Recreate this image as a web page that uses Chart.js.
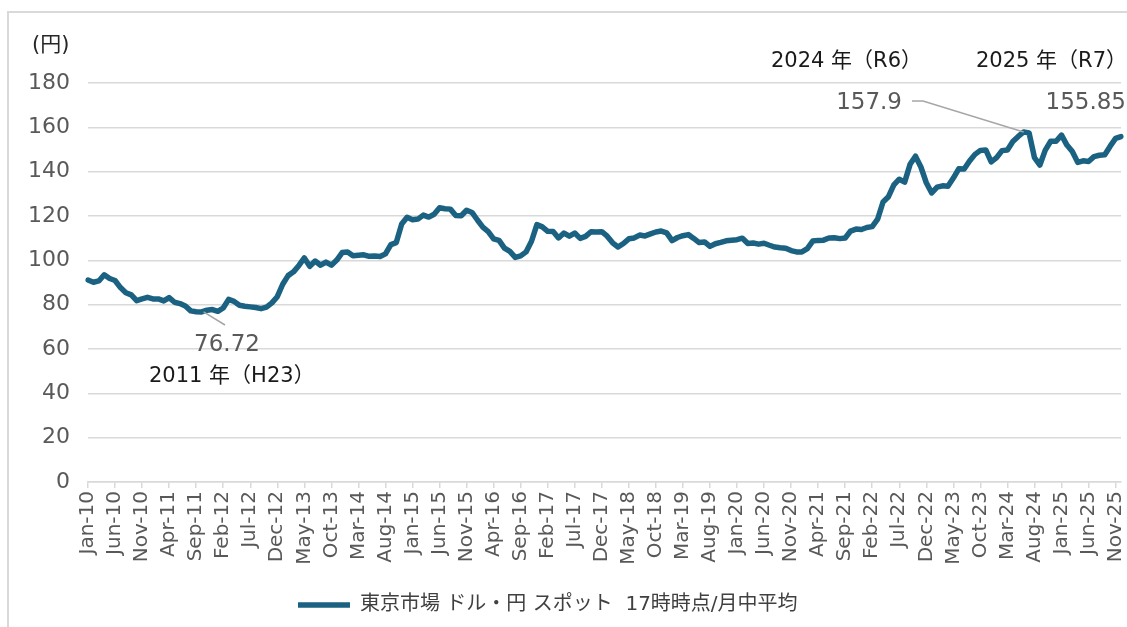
<!DOCTYPE html>
<html>
<head>
<meta charset="utf-8">
<script src="https://cdn.jsdelivr.net/npm/chart.js@4.4.1/dist/chart.umd.min.js"></script>
<style>
  html, body { margin: 0; padding: 0; background: #ffffff; }
  #wrap { position: relative; width: 1127px; height: 627px; overflow: hidden; }
  #frame { position: absolute; left: 7px; top: 11px; width: 1140px; height: 640px; border: 2px solid #d9d9d9; box-sizing: border-box; }
  canvas { position: absolute; left: 0; top: 0; }
</style>
</head>
<body>
<div id="wrap">
  <div id="frame"></div>
  <canvas id="c" width="1127" height="627"></canvas>
</div>
<script>
// ---- Data (Tokyo market USD/JPY spot, 17:00, monthly average) ----
const MONTHS = ['Jan','Feb','Mar','Apr','May','Jun','Jul','Aug','Sep','Oct','Nov','Dec'];
const YEARS = ['10','11','12','13','14','15','16','17','18','19','20','21','22','23','24','25'];

const y2010 = [91.1, 90.1, 90.7, 93.5, 91.8, 90.9, 87.7, 85.4, 84.4, 81.8, 82.6, 83.3];
const y2011 = [82.6, 82.6, 81.7, 83.2, 81.1, 80.5, 79.4, 77.2, 76.8, 76.72, 77.5, 77.8];
const y2012 = [76.98, 78.5, 82.4, 81.5, 79.7, 79.3, 79.0, 78.7, 78.2, 78.9, 80.8, 83.6];
const y2013 = [89.2, 93.1, 94.8, 97.7, 101.1, 97.3, 99.7, 97.8, 99.2, 97.8, 100.1, 103.5];
const y2014 = [103.8, 102.1, 102.3, 102.5, 101.8, 102.0, 101.7, 102.9, 107.1, 108.0, 116.4, 119.4];
const y2015 = [118.3, 118.6, 120.4, 119.5, 120.8, 123.7, 123.3, 123.1, 120.2, 120.1, 122.6, 121.6];
const y2016 = [118.2, 115.0, 113.0, 109.7, 109.0, 105.5, 104.0, 101.3, 102.0, 103.8, 108.6, 116.1];
const y2017 = [115.1, 113.1, 113.0, 110.1, 112.3, 110.9, 112.3, 109.9, 110.8, 112.9, 112.8, 112.9];
const y2018 = [110.9, 107.9, 106.0, 107.6, 109.7, 110.1, 111.4, 111.0, 111.9, 112.8, 113.2, 112.4];
const y2019 = [108.9, 110.3, 111.1, 111.6, 109.9, 108.0, 108.3, 106.3, 107.5, 108.1, 108.8, 109.1];
const y2020 = [109.3, 110.0, 107.6, 107.8, 107.3, 107.7, 106.8, 106.0, 105.7, 105.5, 104.4, 103.8];
const y2021 = [103.8, 105.3, 108.7, 109.0, 109.1, 110.1, 110.2, 109.8, 110.1, 113.2, 114.1, 113.9];
const y2022 = [114.8, 115.2, 118.6, 126.3, 128.7, 134.0, 136.6, 135.3, 143.3, 147.0, 142.1, 135.0];
const y2023 = [130.4, 133.0, 133.6, 133.4, 137.1, 141.3, 141.2, 144.8, 147.8, 149.6, 149.8, 144.4];
const y2024 = [146.3, 149.5, 149.8, 153.6, 155.9, 157.9, 157.5, 146.3, 143.0, 149.7, 153.7, 153.7];
const y2025 = [156.5, 152.0, 149.1, 144.2, 144.9, 144.6, 146.8, 147.4, 147.6, 151.5, 155.0, 155.85];

const Y_TICKS = [0, 20, 40, 60, 80, 100, 120, 140, 160, 180];
const SERIES_NAME = '東京市場 ドル・円 スポット  17時時点/月中平均    ';

const categories = [];
YEARS.forEach(yy => MONTHS.forEach(m => categories.push(m + '-' + yy)));
const values = [].concat(y2010, y2011, y2012, y2013, y2014, y2015, y2016, y2017,
                         y2018, y2019, y2020, y2021, y2022, y2023, y2024, y2025);

// annotation callouts: anchored on data points
const CALLOUTS = [
  { year: '2011 年（H23）', value: '76.72', idx: 21 },
  { year: '2024 年（R6）', value: '157.9', idx: 173 },
  { year: '2025 年（R7）', value: '155.85', idx: 191 }
];

const FONT = '"DejaVu Sans", "Noto Sans CJK JP", sans-serif';
const LINE_COLOR = '#1a6182';
const GRID = '#d9d9d9';

const annotate = {
  id: 'annotate',
  afterDraw(chart) {
    const ctx = chart.ctx;
    const xs = chart.scales.x, ys = chart.scales.y;
    ctx.save();
    // y axis unit
    ctx.fillStyle = '#262626';
    ctx.font = '21px ' + FONT;
    ctx.textBaseline = 'middle';
    ctx.textAlign = 'left';
    ctx.fillText('(円)', 32, 46);

    // connectors
    ctx.strokeStyle = '#a6a6a6';
    ctx.lineWidth = 1.5;
    const p0 = { x: xs.getPixelForValue(CALLOUTS[0].idx), y: ys.getPixelForValue(values[CALLOUTS[0].idx]) };
    ctx.beginPath(); ctx.moveTo(p0.x + 2, p0.y); ctx.lineTo(225, 325); ctx.stroke();
    const p1 = { x: xs.getPixelForValue(CALLOUTS[1].idx), y: ys.getPixelForValue(values[CALLOUTS[1].idx]) };
    ctx.beginPath(); ctx.moveTo(912, 101); ctx.lineTo(923, 101); ctx.lineTo(p1.x, p1.y); ctx.stroke();

    // value labels
    ctx.fillStyle = '#595959';
    ctx.font = '23px ' + FONT;
    ctx.textAlign = 'center';
    ctx.fillText(CALLOUTS[0].value, 227, 345);
    ctx.textAlign = 'right';
    ctx.fillText(CALLOUTS[1].value, 902, 103);
    ctx.fillText(CALLOUTS[2].value, 1126, 103);

    // year labels
    ctx.fillStyle = '#1a1a1a';
    ctx.font = '21px ' + FONT;
    ctx.textAlign = 'left';
    ctx.fillText(CALLOUTS[0].year, 149, 377);
    ctx.fillText(CALLOUTS[1].year, 771, 62);
    ctx.fillText(CALLOUTS[2].year, 976, 62);
    ctx.restore();
  }
};

new Chart(document.getElementById('c'), {
  type: 'line',
  data: {
    labels: categories,
    datasets: [{
      label: SERIES_NAME,
      data: values,
      borderColor: LINE_COLOR,
      backgroundColor: LINE_COLOR,
      borderWidth: 5.5,
      pointRadius: 0,
      pointHoverRadius: 0,
      tension: 0,
      borderJoinStyle: 'round',
      borderCapStyle: 'round',
      fill: false
    }]
  },
  options: {
    responsive: false,
    animation: false,
    devicePixelRatio: 1,
    layout: { padding: { top: 83, right: 6, left: 0, bottom: 2 } },
    plugins: {
      tooltip: { enabled: false },
      legend: {
        display: true,
        position: 'bottom',
        labels: {
          usePointStyle: true,
          pointStyle: 'line',
          pointStyleWidth: 52,
          color: '#404040',
          font: { family: FONT, size: 20 },
          padding: 8
        }
      }
    },
    scales: {
      x: {
        type: 'category',
        offset: false,
        grid: {
          drawOnChartArea: false,
          drawTicks: true,
          tickLength: 6,
          color: GRID,
          lineWidth: 1.5
        },
        border: { display: true, color: GRID, width: 1.5 },
        ticks: {
          autoSkip: false,
          minRotation: 90,
          maxRotation: 90,
          padding: 3,
          color: '#595959',
          font: { family: FONT, size: 20 },
          callback: function (v, i) { return i % 5 === 0 ? categories[i] : null; }
        },
        afterFit(scale) {
          scale.height = 105;
          scale.paddingLeft = 0;
          scale.paddingRight = 0;
        }
      },
      y: {
        min: 0,
        max: 180,
        afterBuildTicks(scale) { scale.ticks = Y_TICKS.map(v => ({ value: v })); },
        grid: { drawTicks: false, color: GRID, lineWidth: 1.5 },
        border: { display: false },
        ticks: {
          padding: 18,
          color: '#595959',
          font: { family: FONT, size: 22 }
        },
        afterFit(scale) { scale.width = 88; }
      }
    }
  },
  plugins: [annotate]
});
</script>
</body>
</html>
